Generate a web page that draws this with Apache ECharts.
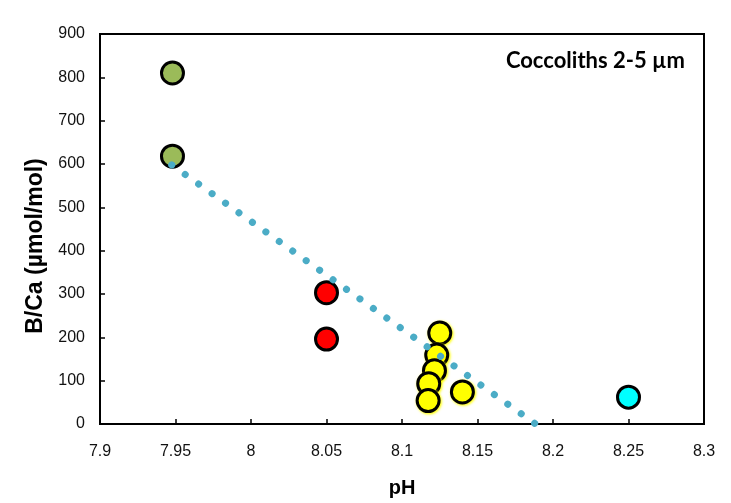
<!DOCTYPE html>
<html><head><meta charset="utf-8">
<script src="https://cdn.jsdelivr.net/npm/echarts@6/dist/echarts.min.js"></script>
<style>html,body{margin:0;padding:0;background:#fff}#c{width:731px;height:503px}</style>
</head><body><div id="c"></div>
<script>
const xTicks = [7.9, 7.95, 8, 8.05, 8.1, 8.15, 8.2, 8.25, 8.3];
const yTicks = [0, 100, 200, 300, 400, 500, 600, 700, 800, 900];
const greenX = [7.948, 7.948];
const greenY = [810, 618];
const redX = [8.05, 8.05];
const redY = [303, 196];
const yellowX = [8.125, 8.123, 8.1215, 8.1177, 8.1173, 8.140];
const yellowY = [210, 159, 123, 93, 54, 74];
const cyanX = [8.25];
const cyanY = [62];
const trendX = [7.9475, 8.1885];
const trendY = [598, 0];

const zip = (a, b) => a.map((v, i) => [v, b[i]]);
const ptSeries = (name, xs, ys, color, extra) => ({
  name, type: 'scatter', data: zip(xs, ys), symbol: 'circle', symbolSize: 22, z: 3,
  itemStyle: Object.assign({ color, opacity: 1, borderColor: '#000', borderWidth: 3 }, extra || {})
});

const chart = echarts.init(document.getElementById('c'), null, { renderer: 'canvas' });
chart.setOption({
  animation: false,
  title: {
    text: 'Coccoliths 2-5 µm', right: 41, top: 45,
    textStyle: { fontFamily: 'Lato', fontWeight: 'bold', fontSize: 22, color: '#000' }
  },
  graphic: [{
    type: 'text', x: 36, y: 246, rotation: Math.PI / 2,
    style: { text: 'B/Ca (µmol/mol)', fontFamily: 'Liberation Sans', fontWeight: 'bold', fontSize: 23, fill: '#000', align: 'center', verticalAlign: 'middle' }
  }],
  grid: { left: 100, right: 27, top: 34, bottom: 79, outerBoundsMode: 'none', containLabel: false, show: true, borderColor: '#000', borderWidth: 2, backgroundColor: 'transparent' },
  xAxis: {
    type: 'value', min: 7.9, max: 8.3, interval: 0.05,
    name: 'pH', nameLocation: 'middle', nameGap: 54,
    nameTextStyle: { fontFamily: 'Liberation Sans', fontWeight: 'bold', fontSize: 20, color: '#000' },
    axisLine: { lineStyle: { color: '#000', width: 2 } },
    axisTick: { inside: true, length: 5, lineStyle: { color: '#000', width: 1.5 } },
    axisLabel: { fontFamily: 'Liberation Sans', fontSize: 16, color: '#111', margin: 20,
      formatter: v => { const t = xTicks.find(k => Math.abs(k - v) < 1e-6); return t === undefined ? '' : String(t); } },
    splitLine: { show: false }
  },
  yAxis: {
    type: 'value', min: 0, max: 900, interval: 100,
    axisLine: { lineStyle: { color: '#000', width: 2 } },
    axisTick: { inside: true, length: 5, lineStyle: { color: '#000', width: 1.5 } },
    axisLabel: { fontFamily: 'Liberation Sans', fontSize: 16, color: '#111', margin: 15,
      formatter: v => yTicks.includes(v) ? String(v) : '' },
    splitLine: { show: false }
  },
  series: [
    ptSeries('green', greenX, greenY, '#9BBB59'),
    ptSeries('red', redX, redY, '#FF0000'),
    ptSeries('yellow', yellowX, yellowY, '#FFFF00', { shadowColor: '#FFFF00', shadowBlur: 3, shadowOffsetX: 1, shadowOffsetY: 1 }),
    ptSeries('cyan', cyanX, cyanY, '#00FFFF'),
    {
      name: 'trend', type: 'line', data: zip(trendX, trendY), showSymbol: false, symbol: 'none',
      lineStyle: { color: '#4BACC6', width: 7, type: [0.1, 16.4], cap: 'round' }, z: 4, silent: true
    }
  ]
});
</script></body></html>
